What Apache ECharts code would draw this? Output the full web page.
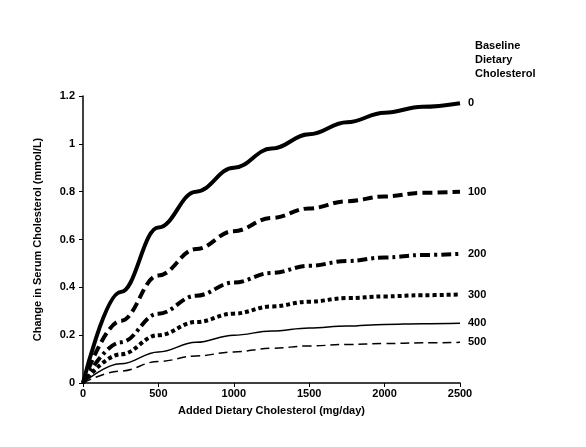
<!DOCTYPE html><html><head><meta charset="utf-8"><script src="https://cdn.jsdelivr.net/npm/echarts@6/dist/echarts.min.js"></script></head><body style="margin:0;background:#fff"><div id="c" style="width:586px;height:447px"></div><script>
const xVals=[0,250,500,750,1000,1250,1500,1750,2000,2250,2500];
const s0=[0,0.38,0.65,0.80,0.90,0.98,1.04,1.09,1.13,1.155,1.17];
const s100=[0,0.26,0.45,0.56,0.635,0.69,0.73,0.76,0.78,0.795,0.80];
const s200=[0,0.17,0.29,0.365,0.42,0.46,0.49,0.51,0.525,0.535,0.54];
const s300=[0,0.12,0.20,0.255,0.29,0.32,0.34,0.355,0.362,0.367,0.37];
const s400=[0,0.08,0.13,0.17,0.20,0.217,0.23,0.238,0.245,0.248,0.25];
const s500=[0,0.05,0.09,0.113,0.13,0.145,0.155,0.161,0.165,0.168,0.17];
const names=['0','100','200','300','400','500'];
const data=[s0,s100,s200,s300,s400,s500];
const widths=[4,4,4,4,1.5,1.5];
const types=['solid',[10,5],[10,4,3,4],[4,3],'solid',[9,5]];
const font='Liberation Sans';
const chart=echarts.init(document.getElementById('c'));
chart.setOption({animation:false,textStyle:{fontFamily:font},
grid:{left:83,right:126,top:96,bottom:64},
title:{text:'Baseline\nDietary\nCholesterol',left:470,top:34,textStyle:{fontSize:11,fontWeight:'bold',color:'#000',lineHeight:14,fontFamily:font}},
xAxis:{type:'value',min:0,max:2500,interval:500,name:'Added Dietary Cholesterol (mg/day)',nameLocation:'middle',nameGap:22,nameTextStyle:{fontSize:11,fontWeight:'bold',color:'#000'},axisLine:{lineStyle:{color:'#000',width:1.5}},axisTick:{lineStyle:{color:'#000'},length:4},axisLabel:{color:'#000',fontWeight:'bold',fontSize:11,margin:5,formatter:v=>String(v)},splitLine:{show:false}},
yAxis:{type:'value',min:0,max:1.2,interval:0.2,name:'Change in Serum Cholesterol (mmol/L)',nameLocation:'middle',nameGap:40,nameTextStyle:{fontSize:11,fontWeight:'bold',color:'#000'},axisLine:{show:true,lineStyle:{color:'#000',width:1.5}},axisTick:{show:true,lineStyle:{color:'#000'},length:4},axisLabel:{color:'#000',fontWeight:'bold',fontSize:11},splitLine:{show:false}},
series:data.map((d,i)=>({name:names[i],type:'line',smooth:0.4,smoothMonotone:'x',symbol:'none',data:xVals.map((x,j)=>[x,d[j]]),lineStyle:{color:'#000',width:widths[i],type:types[i]},endLabel:{show:true,formatter:names[i],color:'#000',fontWeight:'bold',fontSize:11,distance:8}}))
});
</script></body></html>
